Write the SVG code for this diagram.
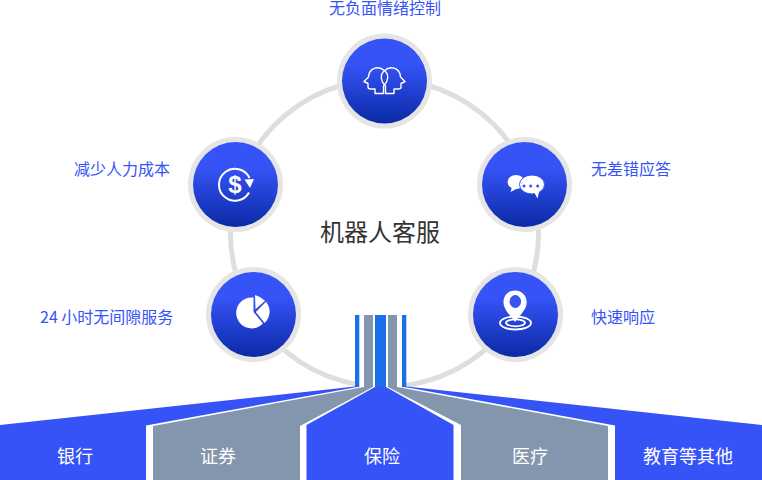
<svg xmlns="http://www.w3.org/2000/svg" width="762" height="480" viewBox="0 0 762 480">
<style>
text{font-family:"Noto Sans CJK SC","Liberation Sans",sans-serif}
.lb{font-size:16px;fill:#3653f7}
.bt{font-size:18px;fill:#fff;text-anchor:middle}
.ou{fill:#e5e5e5}
.in{fill:url(#g)}
.b{fill:#3653f7}.y{fill:#8496ad}.k{fill:#1a70e8}
.s{fill:none;stroke:#fff;stroke-width:1.4;stroke-linejoin:round}
.w{fill:#fff}
</style>
<defs><linearGradient id="g" x1="0" y1="0" x2="0" y2="1"><stop offset=".3" stop-color="#3653f7"/><stop offset="1" stop-color="#0a2aa5"/></linearGradient></defs>
<g id="connectors"><circle cx="384.5" cy="233" r="154" fill="none" stroke="#dedede" stroke-width="5"/><rect x="359" y="378" width="43" height="12" fill="#fff"/></g>
<g id="n1"><circle class="ou" cx="384.5" cy="81" r="47.5"/><circle class="in" cx="384.5" cy="81" r="42.5"/>
<path class="s" d="M383.500 93.500V86C388 82 389.500 75 385 71C378 65 369 68 368.500 77L364 81.500L368 83.500V87Q368 89 371 89H375V93.500Z"/>
<path class="s" d="M385.500 93.500V86C381 82 379.500 75 384 71C391 65 400 68 400.500 77L405 81.500L401 83.500V87Q401 89 398 89H394V93.500Z"/></g>
<g id="n2"><circle class="ou" cx="235.500" cy="184.500" r="47.500"/><circle class="in" cx="235.500" cy="184.500" r="42.500"/>
<path d="M249 192.500A16 16 0 1 1 249.500 178" fill="none" stroke="#fff" stroke-width="2"/><path class="w" d="M244.500 179.500L254 179L250 188Z"/>
<text x="235" y="192.500" text-anchor="middle" font-size="24" font-weight="700" fill="#fff" style="font-family:'Liberation Sans',sans-serif">$</text></g>
<g id="n3"><circle class="ou" cx="524.500" cy="184.500" r="47.500"/><circle class="in" cx="524.500" cy="184.500" r="42.500"/>
<ellipse class="w" cx="516" cy="182" rx="8.500" ry="7"/><path class="w" d="M512 187L510.500 192L518 188Z"/>
<ellipse class="w" cx="532" cy="184.500" rx="12.500" ry="9.500" stroke="#3653f7" stroke-width="1"/><path class="w" d="M534 192L537.500 198.500L539 192Z"/>
<circle cx="524" cy="186" r="1.500" fill="#3653f7"/><circle cx="530.700" cy="186" r="1.500" fill="#3653f7"/><circle cx="537.700" cy="186" r="1.500" fill="#3653f7"/></g>
<g id="n4"><circle class="ou" cx="253.500" cy="314.500" r="47.500"/><circle class="in" cx="253.500" cy="314.500" r="42.500"/>
<path class="w" d="M253.500 297.500V312L263 323.500A15.500 15.500 0 1 1 253.500 297.500Z"/><path class="w" d="M255 295Q260.500 296.500 265 300.700L255.500 309.300Z"/><path class="w" d="M266 301.700A15.500 15.500 0 0 1 264.500 323L255.800 312Z"/></g>
<g id="n5"><circle class="ou" cx="515.500" cy="314.500" r="47.500"/><circle class="in" cx="515.500" cy="314.500" r="42.500"/>
<ellipse cx="515.500" cy="323" rx="15.500" ry="6.500" fill="none" stroke="#fff" stroke-width="1.800"/><ellipse cx="515.500" cy="322.800" rx="9.500" ry="3.500" fill="none" stroke="#fff" stroke-width="1.800"/>
<path class="w" d="M515 322C511 316 503.500 310 503.500 302C503.500 295 509 290.500 515 290.500C521 290.500 526.700 295 526.700 302C526.700 310 519 316 515 322Z"/><ellipse cx="515.300" cy="301.500" rx="5.800" ry="6.500" fill="#3653f7"/></g>
<g id="sectors">
<path class="k" d="M355 315h4.300v72h-4.300zM375 315h11v72h-11zM402 315h4.300v72h-4.300z"/>
<path class="y" d="M364 315h9v72h-9zM388 315h9v72h-9z"/>
<path class="b" d="M0 425L355 386.500H360L146 425.500V480H0Z"/>
<path class="y" d="M153 426L364 387H373L300 426V480H153Z"/>
<path class="b" d="M306.500 425L375 387H386L453.500 425V480H306.500Z"/>
<path class="y" d="M461 425L388 387H397L608 426V480H461Z"/>
<path class="b" d="M615 425.500L402 386.500H406.500L762 425V480H615Z"/>
</g>
<g id="labels">
<text x="320" y="241" font-size="24" fill="#333">机器人客服</text>
<text class="lb" x="329" y="14">无负面情绪控制</text>
<text class="lb" x="74" y="175">减少人力成本</text>
<text class="lb" x="591" y="175">无差错应答</text>
<text class="lb" x="40" y="323">24 小时无间隙服务</text>
<text class="lb" x="591" y="323">快速响应</text>
<text class="bt" x="75" y="463">银行</text>
<text class="bt" x="218" y="463">证券</text>
<text class="bt" x="382" y="463">保险</text>
<text class="bt" x="530" y="463">医疗</text>
<text class="bt" x="688" y="463">教育等其他</text>
</g>
</svg>
